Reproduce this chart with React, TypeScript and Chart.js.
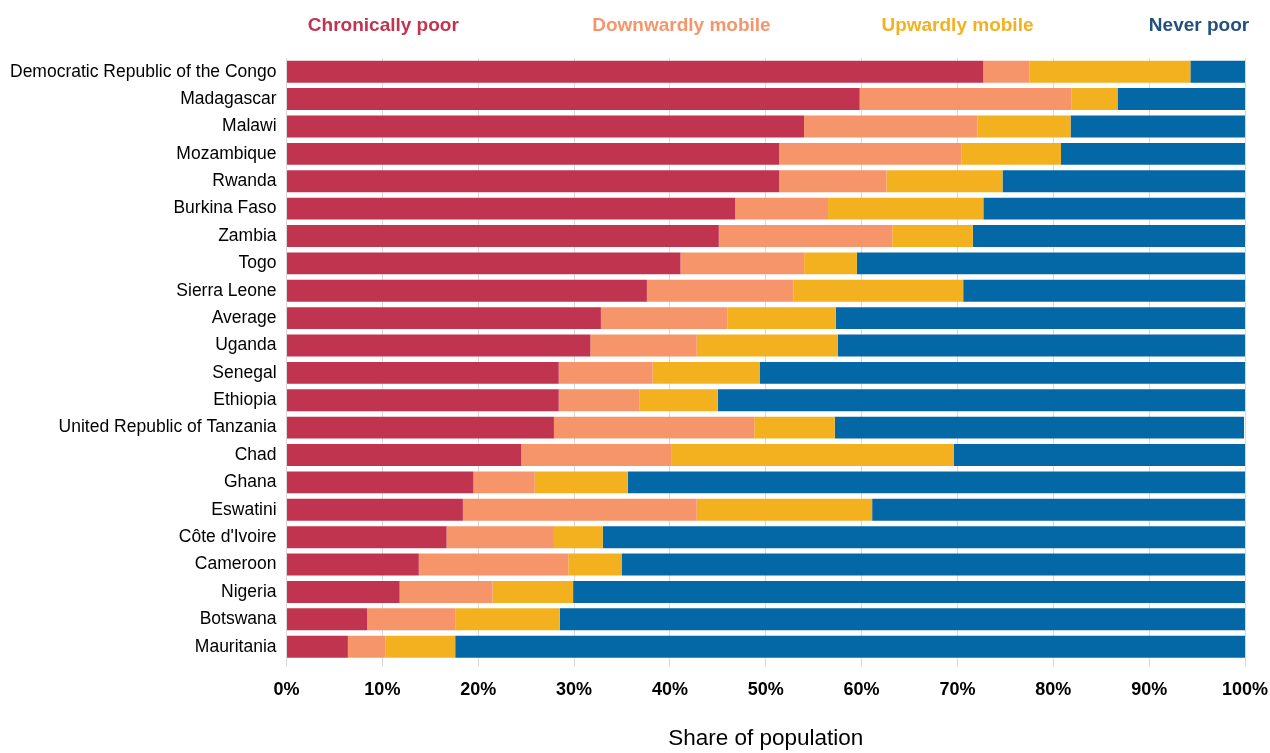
import React, { useEffect, useRef } from "react";
import { Chart, registerables } from "chart.js";

Chart.register(...registerables);

const categories = [
  "Democratic Republic of the Congo",
  "Madagascar",
  "Malawi",
  "Mozambique",
  "Rwanda",
  "Burkina Faso",
  "Zambia",
  "Togo",
  "Sierra Leone",
  "Average",
  "Uganda",
  "Senegal",
  "Ethiopia",
  "United Republic of Tanzania",
  "Chad",
  "Ghana",
  "Eswatini",
  "Côte d'Ivoire",
  "Cameroon",
  "Nigeria",
  "Botswana",
  "Mauritania",
];

const chronicallyPoor = [72.7, 59.8, 54.0, 51.4, 51.4, 46.8, 45.1, 41.1, 37.6, 32.8, 31.7, 28.4, 28.4, 27.9, 24.5, 19.5, 18.4, 16.7, 13.8, 11.8, 8.4, 6.4];
const downwardlyMobile = [4.8, 22.1, 18.1, 19.0, 11.2, 9.7, 18.1, 12.9, 15.3, 13.2, 11.1, 9.8, 8.4, 20.9, 15.7, 6.4, 24.4, 11.2, 15.6, 9.7, 9.2, 3.9];
const upwardlyMobile = [16.8, 4.8, 9.7, 10.4, 12.1, 16.2, 8.4, 5.5, 17.7, 11.3, 14.7, 11.2, 8.2, 8.4, 29.4, 9.7, 18.3, 5.1, 5.6, 8.4, 10.9, 7.3];
const neverPoor = [5.7, 13.3, 18.2, 19.2, 25.3, 27.3, 28.4, 40.5, 29.4, 42.7, 42.5, 50.6, 55.0, 42.7, 30.4, 64.4, 38.9, 67.0, 65.0, 70.1, 71.5, 82.4];

const seriesNames = ["Chronically poor", "Downwardly mobile", "Upwardly mobile", "Never poor"];
const barColors = ["#C0344F", "#F6956A", "#F3B120", "#0467A6"];
const legendColors = ["#C0344F", "#F6956A", "#F3B120", "#24507F"];
const legendCenters = [0.101, 0.412, 0.7, 0.952];

const FONT = "'Liberation Sans Narrow', 'Arial Narrow', 'Liberation Sans', Arial, sans-serif";

const topLegend = {
  id: "topLegend",
  afterDraw(chart: any) {
    const { ctx, chartArea } = chart;
    ctx.save();
    ctx.font = `bold 19px ${FONT}`;
    ctx.textBaseline = "middle";
    ctx.textAlign = "center";
    seriesNames.forEach((name, i) => {
      ctx.fillStyle = legendColors[i];
      const x = chartArea.left + legendCenters[i] * (chartArea.right - chartArea.left);
      ctx.fillText(name, x, 26);
    });
    ctx.restore();
  },
};

export default function App() {
  const ref = useRef<HTMLCanvasElement | null>(null);
  useEffect(() => {
    if (!ref.current) return;
    const values = [chronicallyPoor, downwardlyMobile, upwardlyMobile, neverPoor];
    const chart = new Chart(ref.current, {
      type: "bar",
      data: {
        labels: categories,
        datasets: seriesNames.map((name, i) => ({
          label: name,
          data: values[i],
          backgroundColor: barColors[i],
          borderWidth: 0,
          barPercentage: 0.8,
          categoryPercentage: 1.0,
        })),
      },
      options: {
        indexAxis: "y",
        animation: false,
        responsive: false,
        maintainAspectRatio: false,
        layout: { padding: { top: 58, right: 0, left: 0, bottom: 0 } },
        plugins: {
          legend: { display: false },
          tooltip: { enabled: false },
        },
        scales: {
          x: {
            stacked: true,
            min: 0,
            max: 100,
            afterFit: (scale: any) => {
              scale.paddingLeft = 0;
              scale.paddingRight = 25;
            },
            ticks: {
              stepSize: 10,
              callback: (v: any) => `${v}%`,
              color: "#000",
              font: { family: FONT, size: 18, weight: "bold" },
              padding: 13,
            },
            grid: {
              color: "#D9D9D9",
              lineWidth: 1,
              drawTicks: true,
              tickLength: 6,
            },
            border: { display: false },
            title: {
              display: true,
              text: "Share of population",
              color: "#000",
              font: { family: FONT, size: 22.5 },
              padding: { top: 11, bottom: 1 },
            },
          },
          y: {
            stacked: true,
            ticks: {
              color: "#000",
              font: { family: FONT, size: 17.5 },
              padding: 10,
            },
            grid: { display: false, drawTicks: false },
            border: { display: true, color: "#D9D9D9", width: 1 },
          },
        },
      },
      plugins: [topLegend],
    });
    return () => chart.destroy();
  }, []);
  return (
    <div style={{ position: "fixed", left: 0, top: 0, width: 1270, height: 753, background: "#fff" }}>
      <canvas ref={ref} width={1270} height={753} />
    </div>
  );
}
